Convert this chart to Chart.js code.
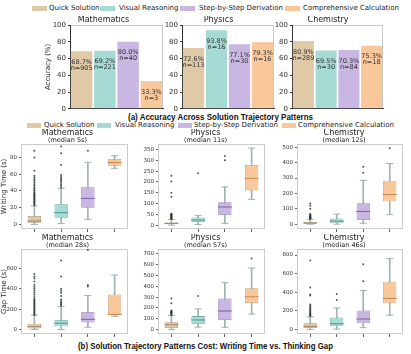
<!DOCTYPE html>
<html>
<head>
<meta charset="utf-8">
<script src="https://cdn.jsdelivr.net/npm/chart.js@4.4.0/dist/chart.umd.min.js"></script>
<style>
body { margin: 0; width: 411px; height: 354px; position: relative; overflow: hidden; background: #fff; font-family: 'DejaVu Sans', sans-serif; color: #222; }
canvas { position: absolute; }
.lg { position: absolute; font-size: 7px; line-height: 7px; white-space: nowrap; }
.sw { position: absolute; height: 5px; }
.cap { position: absolute; font-family: 'Liberation Sans', Arial, sans-serif; font-weight: bold; font-size: 9.5px; line-height: 10px; white-space: nowrap; transform-origin: left center; color: #111; }
</style>
</head>
<body>
<div class="cap" id="capA">(a) Accuracy Across Solution Trajectory Patterns</div>
<div class="cap" id="capB">(b) Solution Trajectory Patterns Cost: Writing Time vs. Thinking Gap</div>
<script>
const patterns = ['Quick Solution', 'Visual Reasoning', 'Step-by-Step Derivation', 'Comprehensive Calculation'];
const fills = ['#e0c9a7', '#a6dad5', '#cab6e2', '#f8c89b'];
const edges = ['#a89477', '#78aba6', '#9a87b5', '#c9a07a'];
const medianColors = ['#a0855e', '#4e9690', '#7b63a0', '#c8874e'];
const subjects = ['Mathematics', 'Physics', 'Chemistry'];

// (a) accuracy per pattern
const mathAcc = [68.7, 69.2, 80.0, 33.3];
const mathN = [905, 221, 40, 3];
const physAcc = [72.6, 93.8, 77.1, 79.3];
const physN = [113, 16, 30, 16];
const chemAcc = [80.9, 69.5, 70.3, 75.3];
const chemN = [289, 30, 84, 18];
const accTicks = [0, 20, 40, 60, 80, 100];

// (b) box stats: [low whisker, Q1, median, Q3, high whisker]
const mathWrite = [[0, 2, 4, 10, 22], [1, 8, 14, 24, 43], [6, 20, 31, 45, 74], [67, 70, 74, 78, 82]];
const mathWriteOut = [
  [23, 24, 25, 26, 27, 28, 29, 30, 31, 32, 33, 34, 35, 36, 37, 38, 40, 41, 43, 44, 46, 48, 50, 52, 54, 56, 58, 64, 80, 88],
  [44, 46, 48, 50, 52, 53, 55, 57, 59, 71, 85, 93],
  [88],
  []
];
const physWrite = [[0, 4, 8, 12, 26], [3, 14, 24, 35, 44], [8, 47, 84, 106, 177], [119, 161, 217, 279, 357]];
const physWriteOut = [
  [28, 30, 32, 34, 36, 38, 40, 42, 44, 46, 48, 50, 53, 131, 150, 202, 229],
  [240],
  [301, 320],
  []
];
const chemWrite = [[0, 3, 8, 15, 32], [0, 6, 20, 37, 66], [6, 27, 83, 137, 285], [62, 147, 193, 282, 394]];
const chemWriteOut = [
  [35, 37, 39, 41, 43, 45, 47, 49, 52, 55, 58, 62, 66, 100, 120, 135],
  [],
  [334, 374],
  [493]
];

const mathGap = [[0, 9, 28, 56, 140], [0, 31, 62, 94, 225], [22, 69, 100, 172, 334], [130, 140, 148, 343, 535]];
const mathGapOut = [
  [145, 150, 160, 170, 180, 190, 200, 210, 220, 230, 240, 250, 260, 270, 280, 290, 300, 320, 340, 360, 380, 400, 420, 440, 470, 500, 520, 545],
  [235, 245, 255, 265, 280, 295, 330, 360, 380, 400, 520, 678],
  [422, 437, 780],
  []
];
const physGap = [[0, 14, 44, 67, 130], [22, 50, 88, 124, 191], [20, 88, 171, 286, 434], [142, 244, 303, 383, 569]];
const physGapOut = [
  [135, 140, 145, 150, 155, 160, 165, 170, 175, 244, 286],
  [310],
  [],
  [657]
];
const chemGap = [[0, 17, 34, 68, 136], [5, 34, 62, 129, 232], [20, 68, 113, 205, 420], [154, 283, 334, 513, 762]];
const chemGapOut = [
  [145, 152, 160, 168, 176, 185, 195, 205, 215, 228, 240, 255, 270, 365, 375, 451, 741],
  [318, 382],
  [519, 700],
  []
];

const writeMedians = ['5s', '11s', '12s'];
const gapMedians = ['28s', '57s', '46s'];

// y tick values for each box panel
const mathWriteTicks = [0, 20, 40, 60, 80];
const physWriteTicks = [0, 50, 100, 150, 200, 250, 300, 350];
const chemWriteTicks = [0, 100, 200, 300, 400, 500];
const mathGapTicks = [0, 200, 400, 600];
const physGapTicks = [0, 100, 200, 300, 400, 500, 600, 700];
const chemGapTicks = [0, 200, 400, 600, 800];

const FONT = 'DejaVu Sans';
Chart.defaults.font.family = FONT;
Chart.defaults.color = '#222';

function makeCanvas(left, top, w, h) {
  const c = document.createElement('canvas');
  c.width = w; c.height = h;
  c.style.left = left + 'px'; c.style.top = top + 'px';
  c.style.width = w + 'px'; c.style.height = h + 'px';
  document.body.appendChild(c);
  return c;
}

const frame = color => ({
  id: 'frame',
  beforeDraw(chart) {
    const { ctx, chartArea: a } = chart;
    ctx.save();
    ctx.strokeStyle = color;
    ctx.lineWidth = 1;
    ctx.strokeRect(Math.round(a.left) + 0.5, Math.round(a.top) + 0.5, Math.round(a.width) - 1, Math.round(a.height) - 1);
    ctx.restore();
  }
});

const barLabels = n => ({
  id: 'barLabels',
  afterDatasetsDraw(chart) {
    const ctx = chart.ctx;
    const vals = chart.data.datasets[0].data;
    ctx.save();
    ctx.font = '6.5px "DejaVu Sans"';
    ctx.fillStyle = '#333';
    ctx.textAlign = 'center';
    ctx.textBaseline = 'middle';
    chart.getDatasetMeta(0).data.forEach((bar, i) => {
      ctx.fillText(vals[i].toFixed(1) + '%', bar.x, bar.y + 11);
      ctx.fillText('n=' + n[i], bar.x, bar.y + 17);
    });
    ctx.restore();
  }
});

const fixedTicks = values => s => { s.ticks = values.map(v => ({ value: v })); };

// top legend rows
function legendRow(cy, swX, swW, txX) {
  patterns.forEach((p, i) => {
    const s = document.createElement('div');
    s.className = 'sw';
    s.style.left = swX[i] + 'px'; s.style.top = (cy - 2.5) + 'px';
    s.style.width = swW + 'px'; s.style.background = fills[i];
    document.body.appendChild(s);
    const t = document.createElement('div');
    t.className = 'lg';
    t.textContent = p;
    t.style.left = txX[i] + 'px'; t.style.top = (cy - 3.5) + 'px';
    document.body.appendChild(t);
  });
}
legendRow(8, [32, 100, 180, 285], 15, [49, 119, 199, 303]);
legendRow(125.5, [27, 97, 178, 282], 14, [44, 115, 194, 298]);

function accChart(left, w, axisW, title, acc, n, yTitle) {
  const cv = makeCanvas(left, 16, w, 99);
  new Chart(cv, {
    type: 'bar',
    data: {
      labels: patterns,
      datasets: [{ data: acc, backgroundColor: fills, borderWidth: 0, categoryPercentage: 0.925, barPercentage: 1 }]
    },
    options: {
      responsive: false, animation: false, events: [],
      layout: { padding: { right: 1 } },
      plugins: {
        legend: { display: false }, tooltip: { enabled: false },
        title: { display: true, text: title, color: '#222', font: { size: 8, weight: 'normal', lineHeight: 1 }, padding: { top: 0, bottom: 1 } }
      },
      scales: {
        x: {
          ticks: { display: false }, grid: { display: false }, border: { color: '#333' },
          afterFit: s => { s.height = 5; }
        },
        y: {
          min: 0, max: 100,
          afterBuildTicks: fixedTicks(accTicks),
          ticks: { font: { size: 7 }, color: '#333', padding: 2 },
          grid: { drawOnChartArea: false, tickLength: 2, color: '#333' },
          border: { color: '#333' },
          title: { display: !!yTitle, text: yTitle, font: { size: 7 }, padding: 0 },
          afterFit: s => { s.width = axisW; }
        }
      }
    },
    plugins: [frame('#c8c8c8'), barLabels(n)]
  });
}

accChart(44, 120, 26, subjects[0], mathAcc, mathN, 'Accuracy (%)');
accChart(163, 112, 19, subjects[1], physAcc, physN, '');
accChart(273, 111, 19, subjects[2], chemAcc, chemN, '');

function boxChart(left, top, w, axisW, title, sub, stats, outl, yMin, yMax, ticks, yTitle) {
  const cv = makeCanvas(left, top, w, 108);
  const pts = [];
  outl.forEach((arr, i) => arr.forEach(v => pts.push({ x: patterns[i], y: v })));
  new Chart(cv, {
    type: 'bar',
    data: {
      labels: patterns,
      datasets: [
        { type: 'bar', data: stats.map(s => [s[0], s[4]]), backgroundColor: '#9fb3b3', barThickness: 1, grouped: false, order: 5 },
        { type: 'bar', data: stats.map(s => [s[1], s[3]]), backgroundColor: fills, borderColor: edges, borderWidth: 0.8, borderSkipped: false, barPercentage: 0.5, categoryPercentage: 1, grouped: false, order: 4 },
        { type: 'line', data: stats.map(s => s[0]), showLine: false, pointStyle: 'line', pointRadius: 3.5, pointBorderColor: '#9fb3b3', pointBorderWidth: 1, order: 3 },
        { type: 'line', data: stats.map(s => s[4]), showLine: false, pointStyle: 'line', pointRadius: 3.5, pointBorderColor: '#9fb3b3', pointBorderWidth: 1, order: 3 },
        { type: 'line', data: stats.map(s => s[2]), showLine: false, pointStyle: 'line', pointRadius: 7, pointBorderColor: medianColors, pointBorderWidth: 1, order: 2 },
        { type: 'line', data: pts, showLine: false, pointStyle: 'circle', pointRadius: 1, pointBackgroundColor: 'rgba(40,50,50,0.8)', pointBorderWidth: 0, order: 1 }
      ]
    },
    options: {
      responsive: false, animation: false, events: [],
      layout: { padding: { right: 1 } },
      plugins: {
        legend: { display: false }, tooltip: { enabled: false },
        title: { display: true, text: title, color: '#222', font: { size: 8, weight: 'normal', lineHeight: 1 }, padding: { top: 0, bottom: 0 } },
        subtitle: { display: true, text: sub, color: '#222', font: { size: 6.5, lineHeight: 1 }, padding: { top: 0, bottom: 0.5 } }
      },
      scales: {
        x: {
          ticks: { display: false },
          grid: { display: true, drawOnChartArea: false, offset: false, tickLength: 3, color: '#666' },
          border: { display: false },
          afterFit: s => { s.height = 4; }
        },
        y: {
          min: yMin, max: yMax,
          afterBuildTicks: fixedTicks(ticks),
          ticks: { font: { size: 5.5 }, color: '#333', padding: 2 },
          grid: { drawOnChartArea: false, tickLength: 2, color: '#666' },
          border: { display: false },
          title: { display: !!yTitle, text: yTitle, font: { size: 7 }, padding: 0 },
          afterFit: s => { s.width = axisW; }
        }
      }
    },
    plugins: [frame('#cccccc')]
  });
}

boxChart(0, 129, 136, 21, subjects[0], '(median ' + writeMedians[0] + ')', mathWrite, mathWriteOut, -5.5, 96, mathWriteTicks, 'Writing Time (s)');
boxChart(139, 129, 134, 19, subjects[1], '(median ' + writeMedians[1] + ')', physWrite, physWriteOut, -18, 376, physWriteTicks, '');
boxChart(278, 129, 133, 19, subjects[2], '(median ' + writeMedians[2] + ')', chemWrite, chemWriteOut, -31, 521, chemWriteTicks, '');

boxChart(0, 234, 136, 21, subjects[0], '(median ' + gapMedians[0] + ')', mathGap, mathGapOut, -44, 790, mathGapTicks, 'Gap Time (s)');
boxChart(139, 234, 134, 19, subjects[1], '(median ' + gapMedians[1] + ')', physGap, physGapOut, -42, 746, physGapTicks, '');
boxChart(278, 234, 133, 19, subjects[2], '(median ' + gapMedians[2] + ')', chemGap, chemGapOut, -48, 865, chemGapTicks, '');

// captions squeezed to the width they take in the figure
function placeCaption(id, left, cy, width) {
  const el = document.getElementById(id);
  el.style.left = left + 'px';
  el.style.top = (cy - 5) + 'px';
  const w = el.getBoundingClientRect().width;
  el.style.transform = 'scaleX(' + (width / w) + ')';
}
placeCaption('capA', 128, 116.5, 185);
placeCaption('capB', 78, 346, 255);
</script>
</body>
</html>
